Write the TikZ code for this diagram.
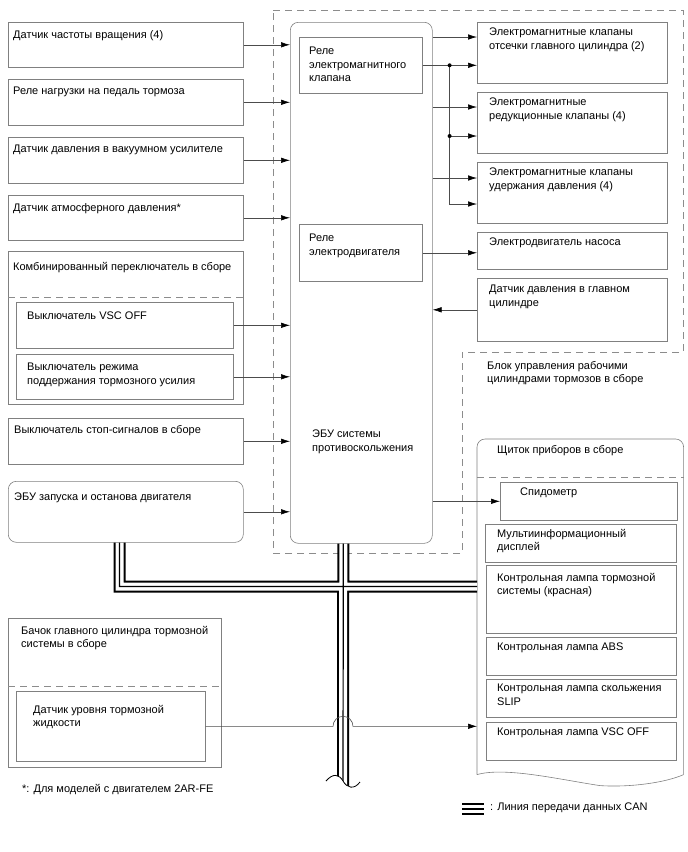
\documentclass[tikz,border=0pt]{standalone}
\usepackage{fontspec}
\setmainfont{Liberation Sans}
\usetikzlibrary{arrows.meta}
\newcommand{\dgfont}{\fontsize{11}{13.4}\selectfont}

\begin{document}
\begin{tikzpicture}
[x=1pt, y=-1pt, font=\dgfont]
\tikzstyle{frame}=[draw=black!50, line width=0.6pt]
\tikzstyle{box}=[frame, anchor=north west, inner sep=0pt]
\tikzstyle{inbox}=[box, minimum width=235pt]
\tikzstyle{outbox}=[box, minimum width=190pt]
\tikzstyle{lamp}=[box, minimum width=190pt, minimum height=38pt]
\tikzstyle{txt}=[anchor=north west, inner sep=0pt, align=left]
\tikzstyle{sep}=[draw=black!45, line width=0.6pt, dash pattern=on 7pt off 5pt]
\tikzstyle{wire}=[draw=black!70, line width=0.6pt]
\tikzstyle{sig}=[wire, -{Latex[length=9pt, width=5.5pt, color=black]}]
\tikzstyle{can}=[line width=2pt, double=white, double distance=8pt]
\useasboundingbox (0,0) rectangle (688,852);

% brake actuator assembly
\draw[sep] (273,10) -- (683,10) -- (683,352) -- (462,352) -- (462,553) -- (273,553) -- cycle;
\node[txt] (actT) at (487,361) {Блок управления рабочими\\цилиндрами тормозов в сборе};

% skid control ECU
\node[box, rounded corners=8pt, minimum width=142pt, minimum height=521pt] (ecu) at (290,22) {};
\node[txt] (ecuT) at (312,430) {ЭБУ системы\\противоскольжения};
\node[box, minimum width=123pt, minimum height=56pt] (relS) at (299,37) {};
\node[txt] (relST) at ([shift={(10pt,-10pt)}]relS.north west) {Реле\\электромагнитного\\клапана};
\node[box, minimum width=123pt, minimum height=57pt] (relM) at (299,224) {};
\node[txt] (relMT) at ([shift={(10pt,-10pt)}]relM.north west) {Реле\\электродвигателя};

% inputs
\node[inbox, minimum height=45pt] (rpm) at (8,22) {};
\node[txt] (rpmT) at ([shift={(5pt,-8pt)}]rpm.north west) {Датчик частоты вращения (4)};
\node[inbox, minimum height=46pt] (pedal) at (8,79) {};
\node[txt] (pedalT) at ([shift={(5pt,-8pt)}]pedal.north west) {Реле нагрузки на педаль тормоза};
\node[inbox, minimum height=46pt] (vac) at (8,137) {};
\node[txt] (vacT) at ([shift={(5pt,-8pt)}]vac.north west) {Датчик давления в вакуумном усилителе};
\node[inbox, minimum height=45pt] (atm) at (8,195) {};
\node[txt] (atmT) at ([shift={(5pt,-8pt)}]atm.north west) {Датчик атмосферного давления*};
\node[inbox, minimum height=153pt] (combo) at (8,251) {};
\node[txt] (comboT) at ([shift={(5pt,-11pt)}]combo.north west) {Комбинированный переключатель в сборе};
\draw[sep] ([yshift=-46pt]combo.north west) -- ([yshift=-46pt]combo.north east);
\node[box, minimum width=217pt, minimum height=46pt] (vscsw) at (16,302) {};
\node[txt] (vscswT) at ([shift={(11pt,-10pt)}]vscsw.north west) {Выключатель VSC OFF};
\node[box, minimum width=217pt, minimum height=45pt] (bhs) at (16,354) {};
\node[txt] (bhsT) at ([shift={(11pt,-9pt)}]bhs.north west) {Выключатель режима\\поддержания тормозного усилия};
\node[inbox, minimum height=46pt] (stop) at (8,418) {};
\node[txt] (stopT) at ([shift={(6pt,-7pt)}]stop.north west) {Выключатель стоп-сигналов в сборе};
\node[inbox, rounded corners=8pt, minimum height=61pt] (sse) at (8,481) {};
\node[txt] (sseT) at ([shift={(6pt,-12pt)}]sse.north west) {ЭБУ запуска и останова двигателя};

% outputs
\node[outbox, minimum height=61pt] (cut) at (477,22) {};
\node[txt] (cutT) at ([shift={(12pt,-6pt)}]cut.north west) {Электромагнитные клапаны\\отсечки главного цилиндра (2)};
\node[outbox, minimum height=61pt] (red) at (477,92) {};
\node[txt] (redT) at ([shift={(12pt,-6pt)}]red.north west) {Электромагнитные\\редукционные клапаны (4)};
\node[outbox, minimum height=61pt] (hold) at (477,162) {};
\node[txt] (holdT) at ([shift={(12pt,-6pt)}]hold.north west) {Электромагнитные клапаны\\удержания давления (4)};
\node[outbox, minimum height=37pt] (pump) at (477,232) {};
\node[txt] (pumpT) at ([shift={(12pt,-6pt)}]pump.north west) {Электродвигатель насоса};
\node[outbox, minimum height=63pt] (mcs) at (477,278) {};
\node[txt] (mcsT) at ([shift={(12pt,-7pt)}]mcs.north west) {Датчик давления в главном\\цилиндре};

% combination meter
\node[box, draw=none, minimum width=206pt, minimum height=335pt] (ic) at (477,439) {};
\node[txt] (icT) at ([shift={(20pt,-6pt)}]ic.north west) {Щиток приборов в сборе};
\draw[frame, rounded corners=8pt] (ic.south west) -- (ic.north west) -- (ic.north east) -- (ic.south east);
\draw[frame] (ic.south west) .. controls +(28,-8) and +(-40,-6) .. ([xshift=123pt, yshift=-11pt]ic.south west) .. controls +(30,2) and +(-18,8) .. (ic.south east);
\draw[sep] ([yshift=-38pt]ic.north west) -- ([yshift=-38pt]ic.north east);
\node[box, minimum width=177pt, minimum height=38pt] (speedo) at (500,482) {};
\node[txt] (speedoT) at ([shift={(20pt,-6pt)}]speedo.north west) {Спидометр};
\node[box, minimum width=191pt, minimum height=38pt] (mfd) at (485,524) {};
\node[txt] (mfdT) at ([shift={(12pt,-5pt)}]mfd.north west) {Мультиинформационный\\дисплей};
\node[lamp, minimum height=68pt] (brk) at (486,565) {};
\node[txt] (brkT) at ([shift={(11pt,-8pt)}]brk.north west) {Контрольная лампа тормозной\\системы (красная)};
\node[lamp] (abs) at (486,637) {};
\node[txt] (absT) at ([shift={(11pt,-6pt)}]abs.north west) {Контрольная лампа ABS};
\node[lamp] (slip) at (486,679) {};
\node[txt] (slipT) at ([shift={(11pt,-5pt)}]slip.north west) {Контрольная лампа скольжения\\SLIP};
\node[lamp] (vscl) at (486,722) {};
\node[txt] (vsclT) at ([shift={(11pt,-6pt)}]vscl.north west) {Контрольная лампа VSC OFF};

% brake master cylinder reservoir
\node[box, minimum width=213pt, minimum height=149pt] (res) at (8,618) {};
\node[txt] (resT) at ([shift={(13pt,-8pt)}]res.north west) {Бачок главного цилиндра тормозной\\системы в сборе};
\draw[sep] ([yshift=-68pt]res.north west) -- ([yshift=-68pt]res.north east);
\node[box, minimum width=189pt, minimum height=70pt] (lvl) at (16,691) {};
\node[txt] (lvlT) at ([shift={(17pt,-14pt)}]lvl.north west) {Датчик уровня тормозной\\жидкости};

% signals into the ECU
\draw[sig] (rpm.east) -- (rpm.east -| ecu.west);
\draw[sig] (pedal.east) -- (pedal.east -| ecu.west);
\draw[sig] (vac.east) -- (vac.east -| ecu.west);
\draw[sig] (atm.east) -- (atm.east -| ecu.west);
\draw[sig] (vscsw.east) -- (vscsw.east -| ecu.west);
\draw[sig] (bhs.east) -- (bhs.east -| ecu.west);
\draw[sig] (stop.east) -- (stop.east -| ecu.west);
\draw[sig] (sse.east) -- (sse.east -| ecu.west);

% signals out of the ECU
\coordinate (cutH) at ([yshift=-15pt]cut.north west);
\coordinate (redH) at ([yshift=-15pt]red.north west);
\coordinate (holdH) at ([yshift=-16pt]hold.north west);
\coordinate (redL) at ([yshift=-44pt]red.north west);
\coordinate (holdL) at ([yshift=-42pt]hold.north west);
\coordinate (split) at ([xshift=27pt]relS.east);
\draw[sig] (ecu.east |- cutH) -- (cutH);
\draw[sig] (ecu.east |- redH) -- (redH);
\draw[sig] (ecu.east |- holdH) -- (holdH);
\draw[sig] (relS.east) -- (relS.east -| cut.west);
\draw[sig] (split |- redL) -- (redL);
\draw[sig] (split) |- (holdL);
\fill (split) circle (2pt);
\fill (split |- redL) circle (2pt);
\draw[sig] (relM.east) -- (relM.east -| pump.west);
\draw[sig] (mcs.west) -- (mcs.west -| ecu.east);
\draw[sig] (speedo.west -| ecu.east) -- (speedo.west);

% CAN bus
\coordinate (canL) at ([xshift=111.5pt]sse.south west);
\coordinate (canT) at ([xshift=-18pt]ecu.south);
\coordinate (canJ) at (343,586.5);
\coordinate (canE) at (343,790);
\draw[can] (canL) |- (canJ) -- (canJ -| ic.west) (canT) -- (canE);
\draw[line width=1.2pt] (canL) |- (canJ) -- (canJ -| ic.west) (canT) -- (canE);
\fill[white] (326,781) .. controls (333,773) and (339,774) .. (343,781) .. controls (347,788) and (354,790) .. (360,782) -- (362,796) -- (324,796) -- cycle;
\draw[line width=0.8pt] (326,781) .. controls (333,773) and (339,774) .. (343,781) .. controls (347,788) and (354,790) .. (360,782);
\coordinate (hop) at (canE |- lvl.east);
\draw[sig] (lvl.east) -- ([xshift=-10pt]hop) arc[start angle=180, end angle=0, radius=10pt] -- (lvl.east -| ic.west);

% notes
\node[txt] (note) at (22,784) {*: Для моделей с двигателем 2AR-FE};
\coordinate (lgA) at (462,809);
\coordinate (lgB) at (484,809);
\draw[can] (lgA) -- (lgB);
\draw[line width=2pt] (lgA) -- (lgB);
\node[txt] (lgT) at (490,803) {: Линия передачи данных CAN};
\end{tikzpicture}
\end{document}
